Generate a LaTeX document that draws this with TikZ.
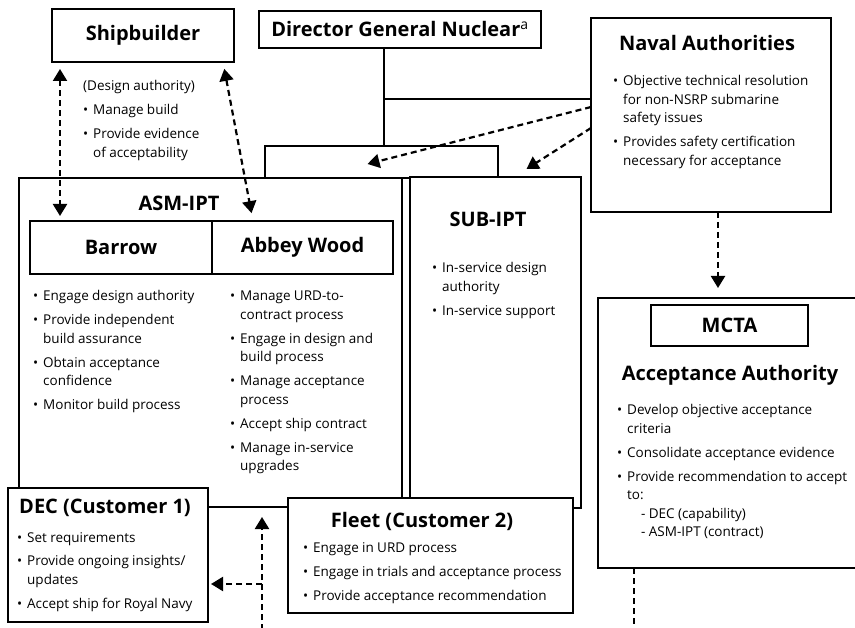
\documentclass[tikz,border=0pt]{standalone}
\usepackage{fontspec}
\setmainfont{Open Sans}
\usepackage{tikz}
\usetikzlibrary{calc, arrows.meta, positioning}
\newcommand{\itm}[1]{\hangindent=10pt\hangafter=1\makebox[10pt][l]{\textbullet}#1\par}
\newcommand{\bodyfont}{\fontsize{13.5}{18.5}\selectfont\parskip=5.5pt\parindent=0pt}
\tikzset{
  >={Triangle[width=14pt,length=12pt]},
  boxed/.style = {rectangle, draw=black, line width=2pt, fill=white,
                  inner sep=0pt, outer sep=0pt, anchor=north west,
                  font=\fontsize{20}{23}\selectfont\bfseries},
  head/.style = {inner sep=0pt, anchor=base,
                 font=\fontsize{20}{23}\selectfont\bfseries},
  bullets/.style = {inner sep=0pt, anchor=base west, text width=#1,
                    align=left, execute at begin node=\bodyfont},
  link/.style = {line width=2pt},
  flow/.style = {line width=2.2pt, dash pattern=on 6pt off 4pt},
}

\begin{document}
\begin{tikzpicture}[x=1pt, y=-1pt]
  \useasboundingbox (0,0) rectangle (855,628);
  \clip (0,0) rectangle (855,628);

  % team boxes
  \node[boxed, minimum width=233, minimum height=32] (hdr) at (265,146) {};
  \node[boxed, minimum width=383, minimum height=329] (asm) at (19,178) {};
  \node[boxed, minimum width=171, minimum height=331] (sub) at (410,177) {};
  \node[boxed, minimum width=182, minimum height=53] (ship) at (52,9) {Shipbuilder};
  \node[boxed, minimum width=282, minimum height=37] (dg) at (259,11) {Director General Nuclear\textsuperscript{\mdseries a}};
  \node[boxed, minimum width=240, minimum height=194] (naval) at (591,18) {};
  \node[boxed, minimum width=182, minimum height=53] (barrow) at (30,221) {Barrow};
  \node[boxed, minimum width=181, minimum height=53] (abbey) at (212,221) {Abbey Wood};
  \node[boxed, minimum width=259, minimum height=270] (mcta) at (598,298) {};
  \node[boxed, minimum width=157, minimum height=41] (mctaname) at (651,305) {MCTA};
  \node[boxed, minimum width=200, minimum height=134] (dec) at (8,488) {};
  \node[boxed, minimum width=285, minimum height=115] (fleet) at (288,498) {};

  % titles
  \node[head] (asmttl) at (179,211) {ASM-IPT};
  \node[head] (subttl) at (488,227) {SUB-IPT};
  \node[head] (navalttl) at (707,51) {Naval Authorities};
  \node[head] (accttl) at (730,381) {Acceptance Authority};
  \node[head] (decttl) at (105,514) {DEC (Customer 1)};
  \node[head] (fleetttl) at (422,527) {Fleet (Customer 2)};

  % roles
  \node[bullets=175] (shiplist) at (83,91) {(Design authority)\par\itm{Manage build}\itm{Provide evidence\newline of acceptability}};
  \node[bullets=175] (barrowlist) at (33,301) {\itm{Engage design authority}\itm{Provide independent\newline build assurance}\itm{Obtain acceptance\newline confidence}\itm{Monitor build process}};
  \node[bullets=165] (abbeylist) at (230,301) {\itm{Manage URD-to-\newline contract process}\itm{Engage in design and\newline build process}\itm{Manage acceptance\newline process}\itm{Accept ship contract}\itm{Manage in-service\newline upgrades}};
  \node[bullets=140] (sublist) at (432,273) {\itm{In-service design\newline authority}\itm{In-service support}};
  \node[bullets=215] (navallist) at (613,86) {\itm{Objective technical resolution\newline for non-NSRP submarine\newline safety issues}\itm{Provides safety certification\newline necessary for acceptance}};
  \node[bullets=235] (mctalist) at (617,415) {\itm{Develop objective acceptance\newline criteria}\itm{Consolidate acceptance evidence}\itm{Provide recommendation to accept\newline to:\newline\hspace*{14pt}- DEC (capability)\newline\hspace*{14pt}- ASM-IPT (contract)}};
  \node[bullets=190] (declist) at (17,542) {\itm{Set requirements}\itm{Provide ongoing insights/\newline updates}\itm{Accept ship for Royal Navy}};
  \node[bullets=268] (fleetlist) at (303,552) {\itm{Engage in URD process}\itm{Engage in trials and acceptance process}\itm{Provide acceptance recommendation}};

  % line management
  \draw[link] ([yshift=16]naval.west) -| ([xshift=-16]dg.south);
  \draw[link] ([xshift=-16]dg.south) -- ([xshift=-16]dg.south |- hdr.north);

  % dashed flows
  \draw[flow, <->, shorten <=7pt, shorten >=5pt] ([xshift=8]ship.south west) -- ([xshift=8]ship.south west |- barrow.north);
  \draw[flow, <->, shorten <=7pt, shorten >=8pt] ([xshift=-11]ship.south east) -- ([xshift=41]abbey.north west);
  \draw[flow, ->] ([yshift=8]naval.west) -- ([xshift=-14, yshift=-2]hdr.center);
  \draw[flow, ->] ([yshift=-13]naval.west) -- ([xshift=31, yshift=8]sub.north);
  \draw[flow, ->, shorten >=10pt] ([xshift=7]naval.south) -- ([xshift=7]naval.south |- mcta.north);
  \coordinate (mctaout) at (634,630);
  \draw[flow] ([xshift=36]mcta.south west) -- (mctaout);
  \coordinate (custin) at (262,630);
  \coordinate (split) at (262,584);
  \draw[flow, ->, shorten >=10pt] (custin) -- (custin |- asm.south);
  \draw[flow, ->, shorten >=3pt] (split) -- (split -| dec.east);
\end{tikzpicture}
\end{document}
